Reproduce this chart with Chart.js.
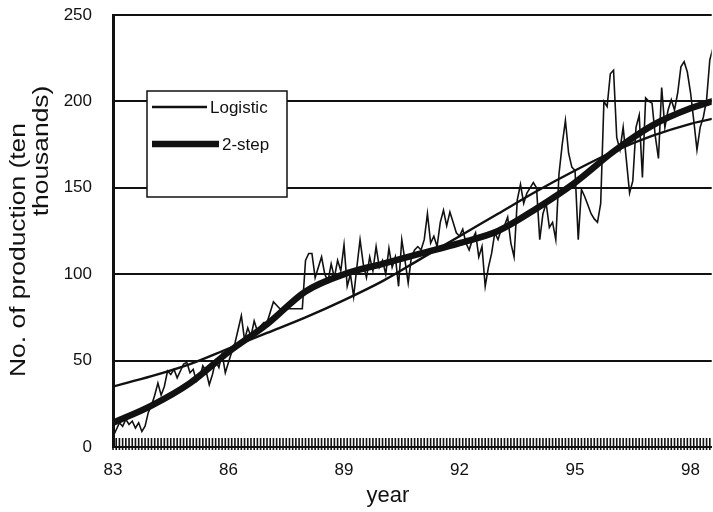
<!DOCTYPE html>
<html>
<head>
<meta charset="utf-8">
<script src="https://cdn.jsdelivr.net/npm/chart.js@4.4.1/dist/chart.umd.min.js"></script>
<style>
  html, body { margin: 0; padding: 0; background: #fff; }
</style>
</head>
<body>
<canvas id="productionChart" width="713" height="512"></canvas>
<script>
// Monthly production (ten thousands), first value = Jan '83
const startYear = 83;
const production = [
  6, 10, 14, 12, 16, 13, 15, 11, 14, 9, 12, 20,            // 83
  24, 30, 37, 30, 35, 44, 42, 45, 40, 44, 48, 49,          // 84
  43, 45, 38, 40, 47, 44, 36, 42, 50, 46, 54, 43,          // 85
  49, 55, 60, 68, 76, 62, 69, 64, 73, 67, 70, 72,          // 86
  72, 78, 84, 82, 80, 80, 80, 80, 80, 80, 80, 80,          // 87
  108, 112, 112, 98, 104, 110, 100, 96, 106, 98, 108, 102, // 88
  117, 93, 100, 87, 104, 120, 106, 98, 110, 102, 116, 104, // 89
  108, 100, 115, 104, 110, 93, 120, 108, 95, 110, 114, 116, // 90
  114, 120, 135, 118, 122, 116, 130, 137, 128, 136, 130, 124, // 91
  122, 126, 118, 114, 120, 124, 110, 116, 93, 104, 112, 124, // 92
  120, 126, 128, 133, 118, 110, 143, 152, 141, 147, 150, 153, // 93
  150, 120, 135, 141, 127, 130, 120, 158, 175, 189, 170, 162, // 94
  160, 120, 149, 145, 140, 135, 132, 130, 141, 200, 197, 216, // 95
  218, 179, 172, 185, 166, 147, 154, 185, 192, 156, 202, 200, // 96
  199, 180, 167, 208, 185, 195, 201, 195, 205, 220, 223, 217, // 97
  205, 189, 172, 185, 191, 201, 224, 231                      // 98
];

// fitted curves, one value per year
const fitYears = [83, 84, 85, 86, 87, 88, 89, 90, 91, 92, 93, 94, 95, 96, 97, 98, 99];
const logistic = [35, 41, 48, 57, 66, 75, 85, 96, 109, 122, 135, 148, 160, 171, 180, 187, 192];
const twoStep  = [14, 24, 37, 55, 71, 90, 100, 106, 112, 118, 125, 138, 153, 171, 186, 196, 203];

const yearTicks = [83, 86, 89, 92, 95, 98];
const xMax = 98.55;

const FONT = '"Liberation Sans", Arial, Helvetica, sans-serif';

const monthPoints = production.map((v, i) => ({ x: startYear + i / 12, y: v }));
const toPoints = arr => arr.map((v, i) => ({ x: fitYears[i], y: v }));

// dense monthly tick marks along the bottom of the plot
const monthTicks = {
  id: 'monthTicks',
  beforeDatasetsDraw(chart) {
    const ctx = chart.ctx, xs = chart.scales.x, a = chart.chartArea;
    ctx.save();
    ctx.strokeStyle = '#111';
    ctx.lineWidth = 1.6;
    ctx.beginPath();
    for (let i = 0; i < production.length; i++) {
      const px = xs.getPixelForValue(startYear + i / 12);
      if (px > a.right) break;
      ctx.moveTo(px, a.bottom + 3);
      ctx.lineTo(px, a.bottom - 9);
    }
    ctx.stroke();
    ctx.restore();
  }
};

// boxed legend for the two fitted curves
const legendBox = {
  id: 'legendBox',
  afterDraw(chart) {
    const ctx = chart.ctx, a = chart.chartArea;
    const x = a.left + 34, y = a.top + 76, w = 140, h = 106;
    ctx.save();
    ctx.fillStyle = '#fff';
    ctx.fillRect(x, y, w, h);
    ctx.strokeStyle = '#111';
    ctx.lineWidth = 1.5;
    ctx.strokeRect(x, y, w, h);
    ctx.font = '17px ' + FONT;
    ctx.textBaseline = 'middle';
    ctx.fillStyle = '#111';
    const items = chart.data.datasets.filter(d => d.inLegend);
    items.forEach((d, i) => {
      const ly = y + 16 + i * 37;
      const len = d.borderWidth > 3 ? 67 : 55;
      ctx.strokeStyle = '#111';
      ctx.lineWidth = d.borderWidth;
      ctx.beginPath();
      ctx.moveTo(x + 5, ly);
      ctx.lineTo(x + 5 + len, ly);
      ctx.stroke();
      ctx.fillText(d.label, x + 8 + len, ly + 1);
    });
    ctx.restore();
  }
};

// axis titles: two-line rotated y title and the year label
const axisTitles = {
  id: 'axisTitles',
  afterDraw(chart) {
    const ctx = chart.ctx;
    ctx.save();
    ctx.fillStyle = '#111';
    ctx.textAlign = 'center';
    ctx.textBaseline = 'middle';
    ctx.font = '22px ' + FONT;
    ctx.fillText('year', 388, 496);

    ctx.translate(19, 250);
    ctx.rotate(-Math.PI / 2);
    ctx.scale(1.2, 1);
    ctx.fillText('No. of production (ten', 0, 0);
    ctx.fillText('thousands)', 99 / 1.2, 23);
    ctx.restore();
  }
};

new Chart(document.getElementById('productionChart'), {
  type: 'line',
  data: {
    datasets: [
      {
        label: 'Production',
        data: monthPoints,
        borderColor: '#111',
        borderWidth: 1.6,
        pointRadius: 0,
        tension: 0,
        inLegend: false
      },
      {
        label: 'Logistic',
        data: toPoints(logistic),
        borderColor: '#111',
        borderWidth: 2.4,
        pointRadius: 0,
        cubicInterpolationMode: 'monotone',
        inLegend: true
      },
      {
        label: '2-step',
        data: toPoints(twoStep),
        borderColor: '#111',
        borderWidth: 6.5,
        pointRadius: 0,
        cubicInterpolationMode: 'monotone',
        inLegend: true
      }
    ]
  },
  options: {
    responsive: false,
    animation: false,
    devicePixelRatio: 1,
    layout: { padding: { top: 15, right: 0, left: 0, bottom: 0 } },
    plugins: {
      legend: { display: false },
      tooltip: { enabled: false }
    },
    scales: {
      x: {
        type: 'linear',
        min: startYear,
        max: xMax,
        afterBuildTicks: s => { s.ticks = yearTicks.map(v => ({ value: v })); },
        afterFit: s => { s.height = 65; },
        grid: { display: false, drawTicks: false },
        border: { display: true, color: '#111', width: 2 },
        ticks: {
          color: '#111',
          padding: 13,
          maxRotation: 0,
          font: { family: FONT, size: 17 }
        },
        title: { display: false }
      },
      y: {
        min: 0,
        max: 250,
        afterFit: s => { s.width = 113; },
        // invisible tick marks keep the labels clear of the axis
        grid: { color: '#111', lineWidth: 2, drawTicks: true, tickLength: 21, tickColor: 'rgba(0,0,0,0)' },
        border: { display: true, color: '#111', width: 3 },
        ticks: {
          stepSize: 50,
          color: '#111',
          padding: 0,
          font: { family: FONT, size: 17 }
        }
      }
    }
  },
  plugins: [monthTicks, legendBox, axisTitles]
});
</script>
</body>
</html>
